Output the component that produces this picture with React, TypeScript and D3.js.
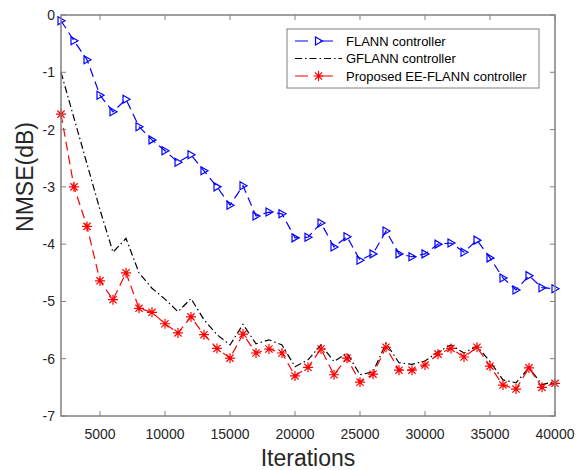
import React, { useEffect, useRef } from 'react';
import * as d3 from 'd3';

// iterations 2000..40000, one sample every 1000
const iterations = [
  2000, 3000, 4000, 5000, 6000, 7000, 8000, 9000, 10000, 11000,
  12000, 13000, 14000, 15000, 16000, 17000, 18000, 19000, 20000, 21000,
  22000, 23000, 24000, 25000, 26000, 27000, 28000, 29000, 30000, 31000,
  32000, 33000, 34000, 35000, 36000, 37000, 38000, 39000, 40000,
];

const flann = [
  -0.1, -0.45, -0.78, -1.4, -1.69, -1.47, -1.95, -2.18, -2.37, -2.57,
  -2.44, -2.72, -3.0, -3.32, -2.98, -3.51, -3.44, -3.47, -3.89, -3.88,
  -3.63, -4.05, -3.87, -4.28, -4.17, -3.77, -4.17, -4.22, -4.17, -4.0,
  -3.98, -4.14, -3.93, -4.24, -4.59, -4.8, -4.55, -4.76, -4.78,
];

const gflann = [
  -1.0, -1.8, -2.6, -3.4, -4.14, -3.9, -4.5, -4.77, -4.96, -5.18,
  -4.95, -5.32, -5.58, -5.76, -5.4, -5.74, -5.67, -5.76, -6.14, -6.02,
  -5.76, -6.05, -5.9, -6.28, -6.23, -5.73, -6.07, -6.1, -6.04, -5.88,
  -5.76, -5.9, -5.78, -6.05, -6.37, -6.42, -6.16, -6.45, -6.4,
];

const eeFlann = [
  -1.73, -3.0, -3.69, -4.64, -4.97, -4.5, -5.12, -5.19, -5.39, -5.55,
  -5.27, -5.58, -5.82, -5.99, -5.57, -5.9, -5.83, -5.9, -6.3, -6.15,
  -5.83, -6.28, -5.99, -6.41, -6.27, -5.8, -6.2, -6.2, -6.11, -5.92,
  -5.82, -5.97, -5.8, -6.13, -6.46, -6.53, -6.16, -6.5, -6.43,
];

const xTicks = [5000, 10000, 15000, 20000, 25000, 30000, 35000, 40000];
const yTicks = [0, -1, -2, -3, -4, -5, -6, -7];

const legendLabels = ['FLANN controller', 'GFLANN controller', 'Proposed EE-FLANN controller'];

const W = 582;
const H = 470;
const FONT = 'Liberation Sans, Arial, sans-serif';

const triPath = 'M-3,-4L-3,4L4,0Z';
const starPath = 'M-5,0L5,0M0,-5L0,5M-3.6,-3.6L3.6,3.6M-3.6,3.6L3.6,-3.6';

const App = () => {
  const ref = useRef<SVGSVGElement>(null);

  useEffect(() => {
    const svg = d3.select(ref.current).attr('width', W).attr('height', H);
    svg.selectAll('*').remove();

    const left = 61, right = 555, top = 15, bottom = 416;

    const x = d3.scaleLinear().domain([2000, 40000]).range([left, right]);
    const y = d3.scaleLinear().domain([-7, 0]).range([bottom, top]);

    const series = [
      { values: flann, color: '#0000ff', dash: '9,5', marker: 'tri' },
      { values: gflann, color: '#000000', dash: '7,3,1.5,3', marker: 'none' },
      { values: eeFlann, color: '#ff0000', dash: '9,5', marker: 'star' },
    ];

    const line = d3.line<number>()
      .x((_, i) => x(iterations[i]))
      .y(d => y(d));

    const plot = svg.append('g');

    series.forEach(s => {
      plot.append('path')
        .attr('d', line(s.values))
        .attr('fill', 'none')
        .attr('stroke', s.color)
        .attr('stroke-width', 1.2)
        .attr('stroke-dasharray', s.dash);

      if (s.marker !== 'none') {
        plot.selectAll(null)
          .data(s.values)
          .enter()
          .append('path')
          .attr('transform', (d, i) => `translate(${x(iterations[i])},${y(d)})`)
          .attr('d', s.marker === 'tri' ? triPath : starPath)
          .attr('fill', 'none')
          .attr('stroke', s.color)
          .attr('stroke-width', 1.2);
      }
    });

    // box + ticks
    const axisColor = '#808080';
    svg.append('rect')
      .attr('x', left).attr('y', top)
      .attr('width', right - left).attr('height', bottom - top)
      .attr('fill', 'none').attr('stroke', axisColor).attr('stroke-width', 1.5);

    const tickLen = 5;
    xTicks.forEach(t => {
      svg.append('line').attr('x1', x(t)).attr('x2', x(t)).attr('y1', bottom).attr('y2', bottom - tickLen)
        .attr('stroke', axisColor);
      svg.append('line').attr('x1', x(t)).attr('x2', x(t)).attr('y1', top).attr('y2', top + tickLen)
        .attr('stroke', axisColor);
      svg.append('text')
        .attr('x', x(t)).attr('y', 439)
        .attr('text-anchor', 'middle')
        .attr('font-family', FONT).attr('font-size', 14).attr('fill', '#262626')
        .text(String(t));
    });

    yTicks.forEach(t => {
      svg.append('line').attr('x1', left).attr('x2', left + tickLen).attr('y1', y(t)).attr('y2', y(t))
        .attr('stroke', axisColor);
      svg.append('line').attr('x1', right).attr('x2', right - tickLen).attr('y1', y(t)).attr('y2', y(t))
        .attr('stroke', axisColor);
      svg.append('text')
        .attr('x', 55).attr('y', y(t) + 5)
        .attr('text-anchor', 'end')
        .attr('font-family', FONT).attr('font-size', 14).attr('fill', '#262626')
        .text(String(t));
    });

    svg.append('text')
      .attr('x', 308).attr('y', 466)
      .attr('text-anchor', 'middle')
      .attr('font-family', FONT).attr('font-size', 23).attr('fill', '#262626')
      .text('Iterations');

    svg.append('text')
      .attr('transform', 'translate(33,177) rotate(-90)')
      .attr('text-anchor', 'middle')
      .attr('font-family', FONT).attr('font-size', 23).attr('fill', '#262626')
      .text('NMSE(dB)');

    // legend
    const lg = svg.append('g');
    lg.append('rect')
      .attr('x', 287).attr('y', 29).attr('width', 252).attr('height', 59)
      .attr('fill', '#fff').attr('stroke', axisColor).attr('stroke-width', 1);

    series.forEach((s, i) => {
      const ly = 41 + i * 17.5;
      lg.append('line')
        .attr('x1', 295).attr('x2', 342).attr('y1', ly).attr('y2', ly)
        .attr('stroke', s.color).attr('stroke-width', 1.2)
        .attr('stroke-dasharray', s.marker === 'none' ? '7,3,1.5,3' : '13,12');
      if (s.marker !== 'none') {
        lg.append('path')
          .attr('transform', `translate(318.5,${ly})`)
          .attr('d', s.marker === 'tri' ? triPath : starPath)
          .attr('fill', 'none').attr('stroke', s.color).attr('stroke-width', 1.2);
      }
      lg.append('text')
        .attr('x', 346).attr('y', ly + 4.5)
        .attr('font-family', FONT).attr('font-size', 13).attr('fill', '#000')
        .text(legendLabels[i]);
    });
  }, []);

  return (
    <svg ref={ref} style={{ position: 'absolute', left: 0, top: 0, background: '#fff' }}></svg>
  );
};

export default App;
